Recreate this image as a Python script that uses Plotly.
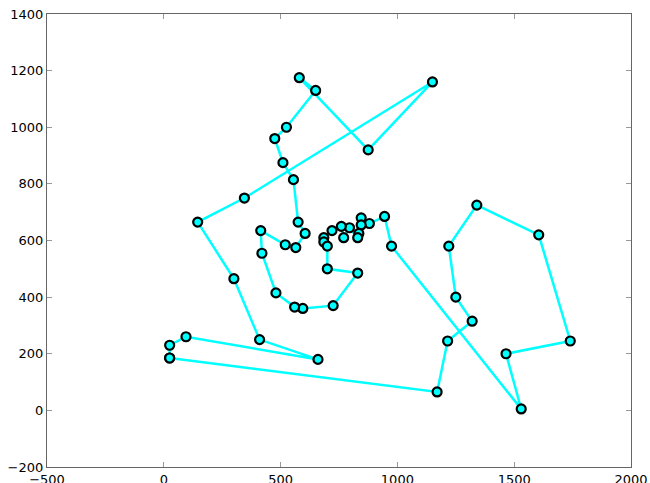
import plotly.graph_objects as go

# Tour through the 52 cities, in visiting order (closed loop)
tour_x = [25, 1170, 1215, 1320, 1250, 1220, 1340, 1605, 1740, 1465, 1530,
          975, 945, 880, 845, 845, 835, 830, 795, 770, 760, 720, 685, 685,
          700, 700, 830, 725, 595, 560, 480, 420, 415, 520, 565, 605, 575,
          555, 510, 475, 525, 650, 580, 875, 1150, 345, 145, 300, 410, 660,
          95, 25, 25]
tour_y = [185, 65, 245, 315, 400, 580, 725, 620, 245, 200, 5,
          580, 685, 660, 680, 655, 625, 610, 645, 610, 650, 635, 610, 595,
          580, 500, 485, 370, 360, 365, 415, 555, 635, 585, 575, 625, 665,
          815, 875, 960, 1000, 1130, 1175, 920, 1160, 750, 665, 465, 250, 180,
          260, 230, 185]

x_ticks = [-500, 0, 500, 1000, 1500, 2000]
y_ticks = [-200, 0, 200, 400, 600, 800, 1000, 1200, 1400]

fig = go.Figure()
fig.add_trace(go.Scatter(
    x=tour_x, y=tour_y, mode="lines+markers",
    line=dict(color="#00FFFF", width=2.5),
    marker=dict(symbol="circle", size=9, color="#00FFFF",
                line=dict(color="black", width=2.2)),
    showlegend=False, hoverinfo="x+y",
))

axis_common = dict(
    showgrid=False, zeroline=False, showline=True, linecolor="#666666",
    linewidth=1.2, mirror="ticks", ticks="inside", ticklen=5, tickwidth=1,
    tickcolor="#999999", tickfont=dict(family="DejaVu Sans", size=13, color="black"),
    automargin=False,
)
fig.update_xaxes(range=[-500, 2000], tickvals=x_ticks, **axis_common)
fig.update_yaxes(range=[-200, 1400], tickvals=y_ticks, **axis_common)

fig.update_layout(
    width=650, height=483,
    margin=dict(l=47, r=19, t=14, b=16),
    plot_bgcolor="white", paper_bgcolor="white",
)

fig.write_html("out.html")
